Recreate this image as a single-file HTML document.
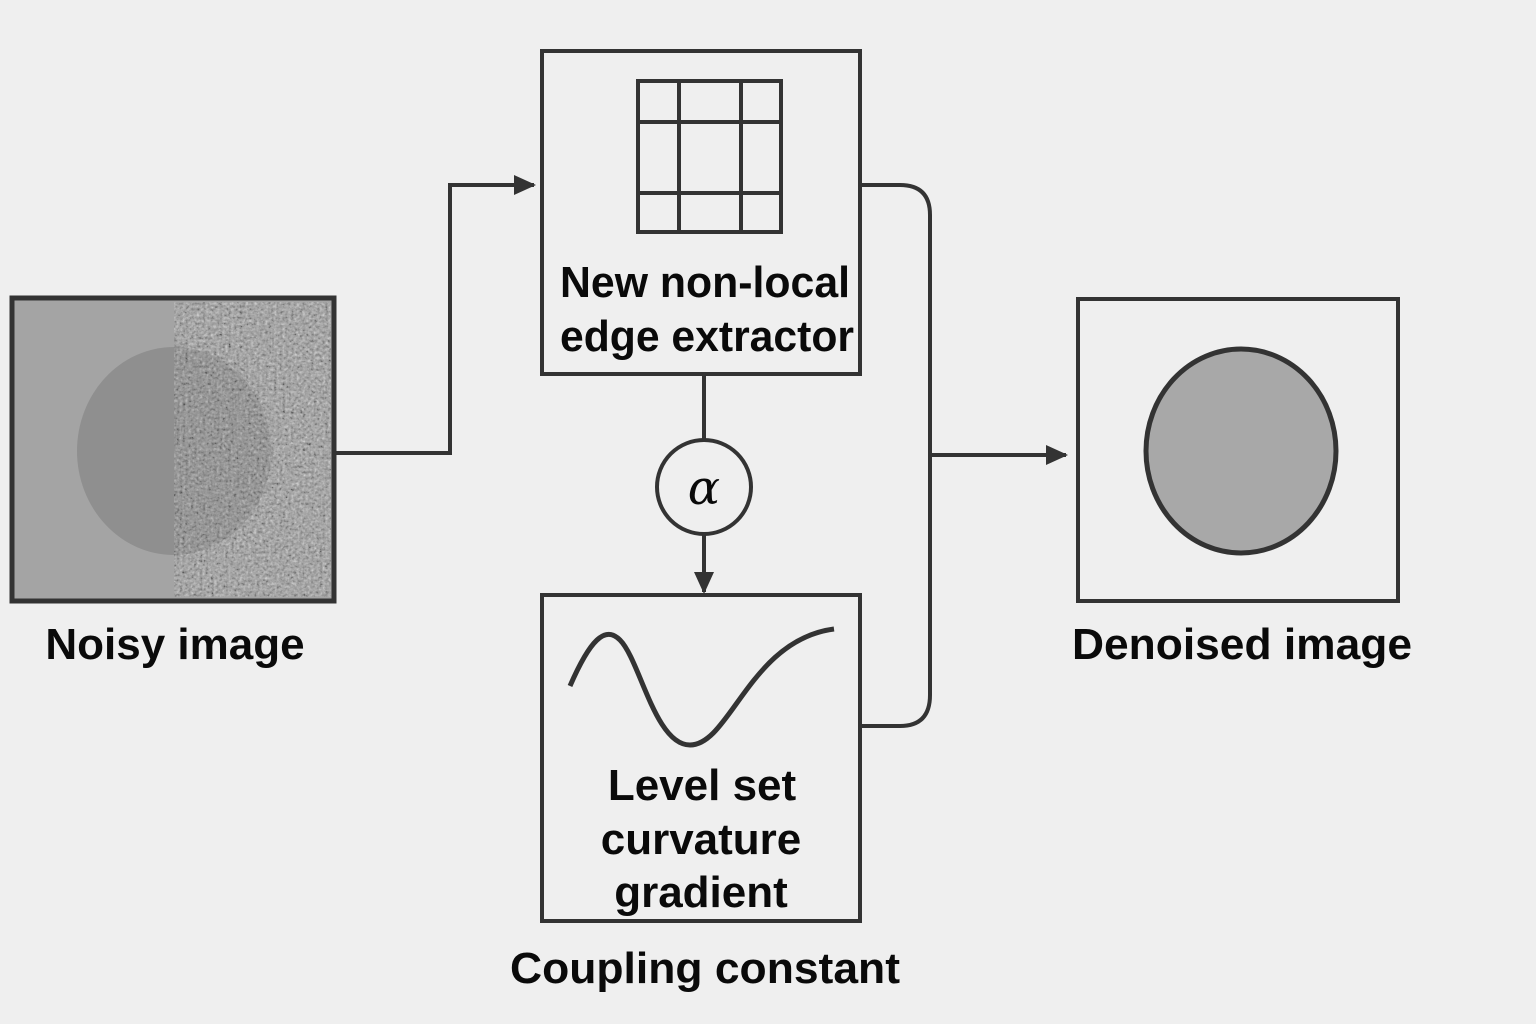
<!DOCTYPE html>
<html><head><meta charset="utf-8"><style>
html,body{margin:0;padding:0;background:#efefef;}
svg{display:block;}
text{font-family:"Liberation Sans","DejaVu Sans",sans-serif;font-weight:bold;fill:#0a0a0a;font-size:44px;text-anchor:middle;}
</style></head><body>
<svg width="1536" height="1024" viewBox="0 0 1536 1024" xmlns="http://www.w3.org/2000/svg">
<defs>
<filter id="noise" x="0" y="0" width="100%" height="100%">
<feTurbulence type="fractalNoise" baseFrequency="0.35" numOctaves="2" seed="3"/>
<feColorMatrix type="saturate" values="0"/>
<feComponentTransfer><feFuncR type="linear" slope="2.2" intercept="-0.58"/><feFuncG type="linear" slope="2.2" intercept="-0.58"/><feFuncB type="linear" slope="2.2" intercept="-0.58"/></feComponentTransfer>
</filter>
<clipPath id="rh"><rect x="174" y="302" width="157" height="295"/></clipPath>
<clipPath id="lh"><rect x="14" y="300" width="160" height="300"/></clipPath>
<marker id="ah" markerWidth="22" markerHeight="20" refX="20" refY="10" orient="auto" markerUnits="userSpaceOnUse"><path d="M0,0 L22,10 L0,20 z" fill="#333"/></marker>
</defs>
<rect width="1536" height="1024" fill="#efefef"/>
<rect x="12" y="298" width="322" height="303" fill="#a4a4a4" stroke="#333" stroke-width="5"/>
<ellipse cx="174" cy="451" rx="97" ry="104" fill="#8f8f8f" clip-path="url(#lh)"/>
<g clip-path="url(#rh)">
<rect x="174" y="302" width="157" height="295" filter="url(#noise)"/>
<rect x="174" y="302" width="157" height="295" fill="#8a8a8a" opacity="0.3"/>
<ellipse cx="174" cy="451" rx="97" ry="104" fill="#333" opacity="0.12"/>
</g>
<rect x="12" y="298" width="322" height="303" fill="none" stroke="#333" stroke-width="5"/>
<text x="175" y="659">Noisy image</text>
<path d="M334,453 H450 V185 H534" fill="none" stroke="#333" stroke-width="4" marker-end="url(#ah)"/>
<rect x="542" y="51" width="318" height="323" fill="none" stroke="#333" stroke-width="4"/>
<g fill="none" stroke="#333" stroke-width="4">
<rect x="638" y="81" width="143" height="151"/>
<line x1="679" y1="81" x2="679" y2="232"/><line x1="741" y1="81" x2="741" y2="232"/>
<line x1="638" y1="122" x2="781" y2="122"/><line x1="638" y1="193" x2="781" y2="193"/>
</g>
<text x="705" y="297" textLength="290" lengthAdjust="spacingAndGlyphs">New non-local</text>
<text x="707" y="351" textLength="294" lengthAdjust="spacingAndGlyphs">edge extractor</text>
<line x1="704" y1="375" x2="704" y2="440" stroke="#333" stroke-width="4"/>
<circle cx="704" cy="487" r="47" fill="none" stroke="#333" stroke-width="4"/>
<text x="704" y="504" style="font-family:'DejaVu Serif','Liberation Serif',serif;font-style:italic;font-weight:normal;font-size:48px">α</text>
<path d="M704,534 V592" fill="none" stroke="#333" stroke-width="4" marker-end="url(#ah)"/>
<rect x="542" y="595" width="318" height="326" fill="none" stroke="#333" stroke-width="4"/>
<path d="M570,686 C590,640 605,625 620,640 C640,660 655,745 690,745 C730,745 750,640 834,629" fill="none" stroke="#333" stroke-width="5"/>
<text x="702" y="800">Level set</text>
<text x="701" y="854">curvature</text>
<text x="701" y="907">gradient</text>
<text x="705" y="983" textLength="390" lengthAdjust="spacingAndGlyphs">Coupling constant</text>
<path d="M861,185 H900 Q930,185 930,215 V695 Q930,726 900,726 H861" fill="none" stroke="#333" stroke-width="4"/>
<path d="M930,455 H1066" fill="none" stroke="#333" stroke-width="4" marker-end="url(#ah)"/>
<rect x="1078" y="299" width="320" height="302" fill="none" stroke="#333" stroke-width="4"/>
<ellipse cx="1241" cy="451" rx="95" ry="102" fill="#a8a8a8" stroke="#333" stroke-width="5"/>
<text x="1242" y="659" textLength="340" lengthAdjust="spacingAndGlyphs">Denoised image</text>
</svg>
</body></html>
